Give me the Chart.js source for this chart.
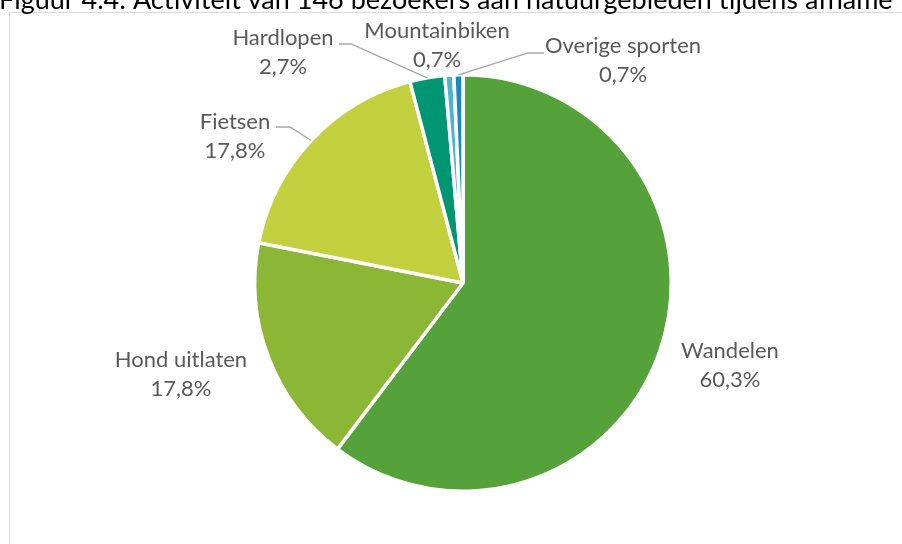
<!DOCTYPE html>
<html>
<head>
<meta charset="utf-8">
<script src="https://cdn.jsdelivr.net/npm/chart.js@4"></script>
<style>
  html, body { margin: 0; padding: 0; background: #fff; overflow: hidden; }
  #wrap { position: relative; width: 902px; height: 544px; }
</style>
</head>
<body>
<div id="wrap"><canvas id="chart" width="902" height="544"></canvas></div>
<script>
/* ---------- DATA ---------- */
const categories = ["Wandelen", "Hond uitlaten", "Fietsen", "Hardlopen", "Mountainbiken", "Overige sporten"];
const shares = [60.3, 17.8, 17.8, 2.7, 0.7, 0.7];
const pctLabels = ["60,3%", "17,8%", "17,8%", "2,7%", "0,7%", "0,7%"];
const sliceColors = ["#55a13a", "#8cb636", "#c3d03d", "#009673", "#4cb5cd", "#1a87c0"];
const titleText = "Figuur 4.4: Activiteit van 146 bezoekers aan natuurgebieden tijdens afname van de enquête";

const FONT = "Lato, 'Open Sans', sans-serif";

// label placement (centre x, first line y) + optional leader start/knee
const labelPos = [
  { x: 730, y: 351 },
  { x: 181, y: 360 },
  { x: 235, y: 122, lead: [[276, 127], [290, 127]] },
  { x: 283, y: 38, lead: [[339, 44], [351, 44]] },
  { x: 437, y: 31 },
  { x: 623, y: 46, lead: [[544, 53], [528, 53]] },
];

const decorations = {
  id: "decorations",
  beforeDraw(chart) {
    const ctx = chart.ctx;
    ctx.save();
    // outer frame
    ctx.strokeStyle = "#d9d9d9";
    ctx.lineWidth = 1;
    ctx.strokeRect(9.5, 12.5, 920, 560);
    // clipped title
    ctx.fillStyle = "#000";
    ctx.font = "27px " + FONT;
    ctx.textBaseline = "alphabetic";
    ctx.textAlign = "left";
    ctx.fillText(titleText, -1, 9);
    ctx.restore();
  },
  afterDraw(chart) {
    const ctx = chart.ctx;
    const arcs = chart.getDatasetMeta(0).data;
    ctx.save();
    ctx.font = "22px " + FONT;
    ctx.fillStyle = "#595959";
    ctx.textAlign = "center";
    ctx.textBaseline = "middle";
    categories.forEach((name, i) => {
      const p = labelPos[i];
      ctx.fillText(name, p.x, p.y);
      ctx.fillText(pctLabels[i], p.x, p.y + 29);
      if (p.lead) {
        const a = arcs[i];
        const mid = (a.startAngle + a.endAngle) / 2;
        const ex = a.x + Math.cos(mid) * a.outerRadius;
        const ey = a.y + Math.sin(mid) * a.outerRadius;
        ctx.strokeStyle = "#a6a6a6";
        ctx.lineWidth = 1.3;
        ctx.beginPath();
        ctx.moveTo(p.lead[0][0], p.lead[0][1]);
        ctx.lineTo(p.lead[1][0], p.lead[1][1]);
        ctx.lineTo(ex, ey);
        ctx.stroke();
      }
    });
    ctx.restore();
  },
};

new Chart(document.getElementById("chart"), {
  type: "pie",
  data: {
    labels: categories,
    datasets: [
      {
        data: shares,
        backgroundColor: sliceColors,
        borderColor: "#ffffff",
        borderWidth: 3.5,
      },
    ],
  },
  options: {
    responsive: false,
    animation: false,
    layout: { padding: { left: 253, right: 229, top: 73, bottom: 51 } },
    plugins: {
      legend: { display: false },
      tooltip: { enabled: false },
    },
  },
  plugins: [decorations],
});
</script>
</body>
</html>
